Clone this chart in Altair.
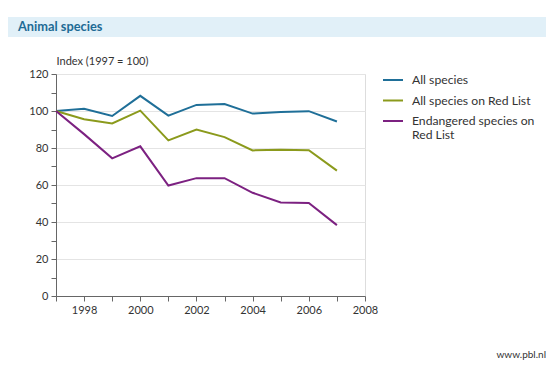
import altair as alt
import pandas as pd

years = [1997, 1998, 1999, 2000, 2001, 2002, 2003, 2004, 2005, 2006, 2007]
all_species = [100, 101.2, 97.3, 108.2, 97.5, 103.3, 103.8, 98.6, 99.4, 99.9, 94.3]
red_list = [100, 95.5, 93.3, 100.2, 84.1, 90.0, 85.9, 78.7, 79.1, 78.8, 67.8]
endangered = [100, 87.5, 74.4, 80.9, 59.7, 63.7, 63.7, 55.8, 50.6, 50.3, 38.3]

series_names = ["All species", "All species on Red List", "Endangered species on Red List"]
legend_labels = ["All species", "All species on Red List", "Endangered species on\nRed List"]
series_colors = ["#1f6f98", "#8b9a1c", "#7c2181"]

rows = []
for name, vals in zip(series_names, [all_species, red_list, endangered]):
    for yr, v in zip(years, vals):
        rows.append({"year": yr, "value": v, "series": name})
df = pd.DataFrame(rows)

FONT = "Lato"
W, H = 309, 222

lines = alt.Chart(df).mark_line(strokeWidth=2).encode(
    x=alt.X("year:Q",
            scale=alt.Scale(domain=[1997, 2008], nice=False, zero=False),
            axis=alt.Axis(values=list(range(1997, 2009)),
                          labelExpr="datum.value % 2 == 0 ? datum.value : ''",
                          title=None, grid=False, tickSize=5,
                          domainColor="#666666", tickColor="#666666",
                          labelColor="#333333", labelFontSize=11, labelFont=FONT,
                          labelPadding=3, labelFlush=False)),
    y=alt.Y("value:Q",
            scale=alt.Scale(domain=[0, 120], nice=False),
            axis=alt.Axis(values=list(range(0, 121, 10)),
                          labelExpr="datum.value % 20 == 0 ? datum.value : ''",
                          title="Index (1997 = 100)", titleAngle=0, titleX=0, titleY=-13,
                          titleAlign="left", titleBaseline="middle",
                          titleFont=FONT, titleFontSize=11, titleFontWeight="normal",
                          titleColor="#333333",
                          grid=True, gridColor="#e4e4e4",
                          gridOpacity=alt.condition("datum.value % 20 == 0 && datum.value > 0", alt.value(1), alt.value(0)),
                          tickSize=5, domainColor="#666666", tickColor="#666666",
                          labelColor="#333333", labelFontSize=11, labelFont=FONT,
                          labelPadding=3)),
    color=alt.Color("series:N",
                    scale=alt.Scale(domain=series_names, range=series_colors),
                    legend=None),
)

# manual legend entries
legend_layers = []
for i, (lab, col) in enumerate(zip(legend_labels, series_colors)):
    ly = 6 + 20.5 * i
    d = pd.DataFrame({"t": [lab]})
    legend_layers.append(
        alt.Chart(d).mark_rule(color=col, strokeWidth=2).encode(
            x=alt.value(327), x2=alt.value(347), y=alt.value(ly)))
    legend_layers.append(
        alt.Chart(d).mark_text(align="left", baseline="middle", font=FONT, fontSize=12.2,
                               color="#333333", lineBreak="\n", lineHeight=14).encode(
            text="t:N", x=alt.value(356), y=alt.value(ly)))

band = alt.Chart(pd.DataFrame({"t": ["Animal species"]})).mark_rect(color="#e1f0f8").encode(
    x=alt.value(-48), x2=alt.value(490), y=alt.value(-57), y2=alt.value(-37)
)
title_txt = alt.Chart(pd.DataFrame({"t": ["Animal species"]})).mark_text(
    align="left", baseline="middle", font=FONT, fontSize=12.8, fontWeight="bold", color="#1e6b95"
).encode(text="t:N", x=alt.value(-38), y=alt.value(-47))
credit = alt.Chart(pd.DataFrame({"t": ["www.pbl.nl"]})).mark_text(
    align="right", baseline="middle", font=FONT, fontSize=10, color="#333333"
).encode(text="t:N", x=alt.value(490), y=alt.value(281))

chart = alt.layer(band, title_txt, lines, *legend_layers, credit).properties(
    width=W, height=H,
    autosize=alt.AutoSizeParams(type="none"),
    padding={"left": 48, "top": 66, "right": 181, "bottom": 65},
).configure_view(stroke=None).configure(background="white")

chart.save("out.html", embed_options={"renderer": "svg", "actions": False})
